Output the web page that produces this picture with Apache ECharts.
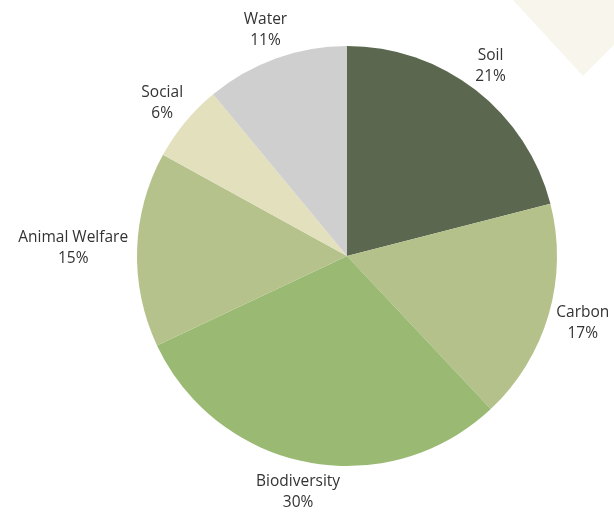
<!DOCTYPE html>
<html>
<head>
<meta charset="utf-8">
<script src="https://cdn.jsdelivr.net/npm/echarts@6/dist/echarts.min.js"></script>
<style>
  html, body { margin: 0; padding: 0; background: #ffffff; }
  #chart { width: 614px; height: 514px; }
</style>
</head>
<body>
<div id="chart"></div>
<script>
// Share of focus areas (percent), clockwise from 12 o'clock
const categories = ['Soil', 'Carbon', 'Biodiversity', 'Animal Welfare', 'Social', 'Water'];
const shares = [21, 17, 30, 15, 6, 11];
const colors = ['#5b674e', '#b4c18a', '#9aba73', '#b5c28b', '#e3e0bd', '#cfcfcf'];

const CX = 347, CY = 256, R = 210, GAP = 9;

const total = shares.reduce((a, b) => a + b, 0);

// Mid-angle of each slice (radians, clockwise from top)
function midAngle(i) {
  let before = 0;
  for (let k = 0; k < i; k++) before += shares[k];
  return ((before + shares[i] / 2) / total) * Math.PI * 2;
}

const chart = echarts.init(document.getElementById('chart'), null, { renderer: 'canvas' });

chart.setOption({
  backgroundColor: '#ffffff',
  animation: false,
  graphic: [{
    type: 'polygon',
    z: -10,
    shape: { points: [[513, 0], [583, 76], [614, 45], [614, 0]] },
    style: { fill: '#f8f6ec' }
  }],
  series: [{
    type: 'pie',
    center: [CX, CY],
    radius: R,
    startAngle: 90,
    clockwise: true,
    avoidLabelOverlap: false,
    itemStyle: { borderWidth: 0 },
    data: categories.map((name, i) => ({
      name: name,
      value: shares[i],
      itemStyle: { color: colors[i] }
    })),
    label: {
      show: true,
      position: 'outside',
      formatter: p => p.name + '\n' + p.value + '%',
      fontFamily: '"Open Sans", Lato, sans-serif',
      fontSize: 15.5,
      lineHeight: 21,
      color: '#333333'
    },
    labelLine: { show: false },
    // Labels sit just outside the rim, pushed out by half their own box
    labelLayout: function (params) {
      const a = midAngle(params.dataIndex);
      const dx = Math.sin(a), dy = -Math.cos(a);
      const w = params.labelRect.width, h = params.labelRect.height;
      return {
        x: CX + dx * (R + GAP) + dx * w / 2,
        y: CY + dy * (R + GAP) + dy * h / 2,
        align: 'center',
        verticalAlign: 'middle'
      };
    },
    emphasis: { disabled: true }
  }]
});
</script>
</body>
</html>
